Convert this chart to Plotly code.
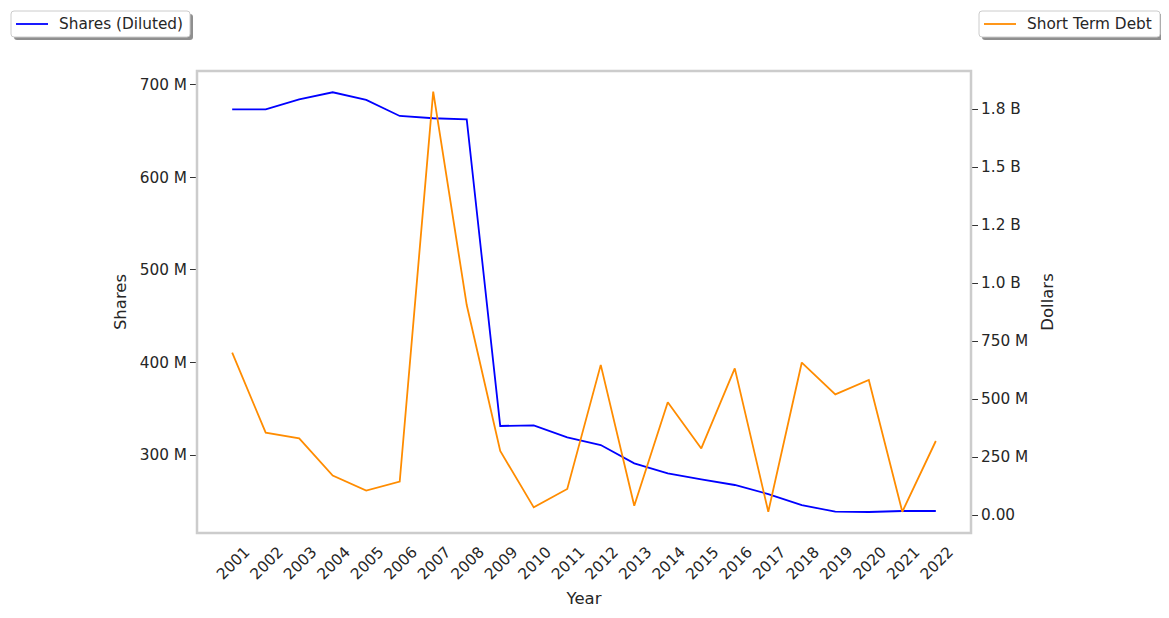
import plotly.graph_objects as go

years = list(range(2001, 2023))
shares_m = [673.7, 673.7, 684.5, 692.1, 683.8, 666.5, 664.0, 662.9, 331.4, 332.1, 319.1,
            310.8, 291.0, 280.2, 273.7, 267.6, 257.8, 245.9, 238.7, 238.4, 239.5, 239.5]
debt_m = [700, 355, 330, 170, 105, 144, 1825, 905, 276, 33, 112,
          647, 40, 486, 287, 632, 14, 657, 520, 582, 14, 319]

left_ticks = [300, 400, 500, 600, 700]
left_labels = ["300 M", "400 M", "500 M", "600 M", "700 M"]
right_ticks = [0, 250, 500, 750, 1000, 1250, 1500, 1750]
right_labels = ["0.00", "250 M", "500 M", "750 M", "1.0 B", "1.2 B", "1.5 B", "1.8 B"]

# page body has an 8px margin, so figure coords = screen coords - 8
W, H = 1161, 610
L, R, T, B = 189, 963, 63, 525
pw, ph = R - L, B - T

def px(x):
    return (x - L) / pw

def py(y):
    return (B - y) / ph

font = "DejaVu Sans"
txt = "#262626"
fs = 15.3

fig = go.Figure()
fig.add_trace(go.Scatter(x=years, y=shares_m, mode="lines", name="Shares (Diluted)",
                         line=dict(color="#0000ff", width=1.8), showlegend=False))
fig.add_trace(go.Scatter(x=years, y=debt_m, mode="lines", name="Short Term Debt",
                         line=dict(color="#ff8c00", width=1.8), yaxis="y2", showlegend=False))

def rounded(x0, y0, x1, y1, r=3):
    X0, X1 = px(x0), px(x1)
    Y0, Y1 = py(y0), py(y1)
    rx, ry = r / pw, r / ph
    return (f"M {X0+rx},{Y0} L {X1-rx},{Y0} Q {X1},{Y0} {X1},{Y0-ry} "
            f"L {X1},{Y1+ry} Q {X1},{Y1} {X1-rx},{Y1} L {X0+rx},{Y1} "
            f"Q {X0},{Y1} {X0},{Y1+ry} L {X0},{Y0-ry} Q {X0},{Y0} {X0+rx},{Y0} Z")

legends = [
    (3, 182, "Shares (Diluted)", "#0000ff"),
    (971, 1152, "Short Term Debt", "#ff8c00"),
]
for (x0, x1, name, col) in legends:
    y0, y1 = 3, 29
    fig.add_shape(type="path", xref="paper", yref="paper", path=rounded(x0 + 3, y0 + 3, x1 + 3, y1 + 3),
                  fillcolor="#8f8f8f", line=dict(width=0), layer="above")
    fig.add_shape(type="path", xref="paper", yref="paper", path=rounded(x0, y0, x1, y1),
                  fillcolor="white", line=dict(color="#cccccc", width=1), layer="above")
    fig.add_shape(type="line", xref="paper", yref="paper", x0=px(x0 + 5), x1=px(x0 + 37),
                  y0=py(16), y1=py(16), line=dict(color=col, width=1.8), layer="above")
    fig.add_annotation(xref="paper", yref="paper", x=px(x0 + 46), y=py(16),
                       xanchor="left", yanchor="middle", text=name, showarrow=False,
                       font=dict(size=fs, color=txt, family=font))

# frame
fig.add_shape(type="rect", xref="paper", yref="paper", x0=0, x1=1, y0=0, y1=1,
              line=dict(color="#cccccc", width=2.5), layer="above")

fig.update_layout(
    width=W, height=H,
    margin=dict(l=L, r=W - R, t=T, b=H - B),
    paper_bgcolor="white", plot_bgcolor="white",
    font=dict(family=font, size=fs, color=txt),
    showlegend=False,
    xaxis=dict(range=[1999.95, 2023.05], tickvals=years, ticktext=[str(y) for y in years],
               tickangle=-45, showgrid=False, zeroline=False, ticks="",
               ticklabelshift=13, ticklabelstandoff=6,
               title=dict(text="Year", font=dict(size=16.5), standoff=10),
               tickfont=dict(size=fs)),
    yaxis=dict(range=[215.7, 715.1], tickvals=left_ticks, ticktext=left_labels,
               showgrid=False, zeroline=False, ticks="outside", ticklen=6, tickwidth=1.3,
               tickcolor="#333333", tickfont=dict(size=fs),
               title=dict(text="Shares", font=dict(size=16.5), standoff=8)),
    yaxis2=dict(range=[-77.6, 1913.8], tickvals=right_ticks, ticktext=right_labels,
                overlaying="y", side="right", showgrid=False, zeroline=False,
                ticks="outside", ticklen=6, tickwidth=1.3, tickcolor="#333333",
                tickfont=dict(size=fs),
                title=dict(text="Dollars", font=dict(size=16.5), standoff=14)),
)

fig.write_html("out.html")
